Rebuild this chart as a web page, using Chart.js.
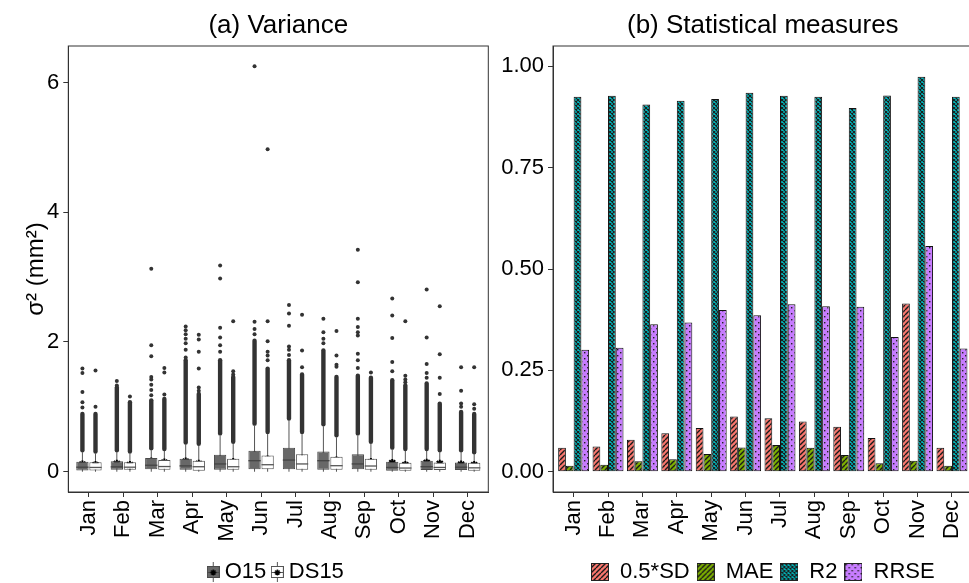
<!DOCTYPE html>
<html>
<head>
<meta charset="utf-8">
<script src="https://cdn.jsdelivr.net/npm/chart.js@4.4.0/dist/chart.umd.min.js"></script>
<style>
html, body { margin: 0; padding: 0; background: #fff; overflow: hidden; width: 969px; height: 583px; }
#left { position: absolute; left: 0; top: 0; }
#right { position: absolute; left: 490px; top: 0; }
</style>
</head>
<body>
<canvas id="left" width="510" height="593"></canvas>
<canvas id="right" width="550" height="593"></canvas>
<script>
const months = ['Jan', 'Feb', 'Mar', 'Apr', 'May', 'Jun', 'Jul', 'Aug', 'Sep', 'Oct', 'Nov', 'Dec'];

// (a) variance, O15
const o15Q1 = [0.02, 0.03, 0.04, 0.03, 0.03, 0.04, 0.04, 0.03, 0.04, 0.015, 0.026, 0.026];
const o15Med = [0.07, 0.075, 0.10, 0.09, 0.12, 0.17, 0.18, 0.17, 0.12, 0.066, 0.077, 0.07];
const o15Q3 = [0.155, 0.16, 0.21, 0.20, 0.26, 0.325, 0.37, 0.31, 0.27, 0.155, 0.17, 0.144];
const o15Mean = [0.11, 0.12, 0.155, 0.155, 0.185, 0.25, 0.26, 0.23, 0.185, 0.13, 0.134, 0.11];
const o15Lo = [0, 0, 0, 0, 0, 0, 0, 0, 0, 0, 0, 0];
const o15Hi = [0.30, 0.30, 0.33, 0.42, 0.56, 0.71, 0.79, 0.70, 0.56, 0.34, 0.32, 0.30];
const o15DenseTop = [0.89, 1.30, 1.10, 1.72, 1.72, 2.02, 1.72, 1.87, 1.48, 1.41, 1.36, 0.92];
const o15Out = [
  [1.59, 1.52, 1.23, 1.07, 0.99],
  [1.40, 1.33],
  [3.13, 1.95, 1.78, 1.46, 1.42, 1.34, 1.26, 1.18],
  [2.24, 2.18, 2.12, 2.05, 1.98, 1.88, 1.76],
  [3.18, 2.98, 2.22, 2.07, 1.95, 1.85],
  [6.25, 2.31, 2.20, 2.12],
  [2.57, 2.44, 2.25, 1.93, 1.88, 1.80],
  [2.36, 2.15, 2.05, 1.98],
  [3.42, 2.92, 2.36, 2.23, 2.15, 2.10, 1.82, 1.72, 1.60],
  [2.67, 2.41, 2.06, 1.69, 1.55],
  [2.81, 2.07, 1.66, 1.52, 1.45],
  [1.61, 1.25, 1.05, 1.00]
];

// (a) variance, DS15
const ds15Q1 = [0.02, 0.03, 0.03, 0.015, 0.03, 0.04, 0.03, 0.03, 0.03, 0.015, 0.026, 0.015];
const ds15Med = [0.066, 0.07, 0.08, 0.077, 0.077, 0.108, 0.12, 0.093, 0.088, 0.057, 0.066, 0.06];
const ds15Q3 = [0.145, 0.145, 0.18, 0.17, 0.20, 0.25, 0.27, 0.23, 0.20, 0.14, 0.144, 0.14];
const ds15Mean = [0.10, 0.10, 0.14, 0.12, 0.145, 0.185, 0.196, 0.17, 0.145, 0.10, 0.12, 0.10];
const ds15Lo = [0, 0, 0, 0, 0, 0, 0, 0, 0, 0, 0, 0];
const ds15Hi = [0.28, 0.28, 0.32, 0.40, 0.43, 0.58, 0.58, 0.53, 0.43, 0.32, 0.30, 0.27];
const ds15DenseTop = [0.89, 1.07, 1.12, 1.20, 1.46, 1.59, 1.50, 1.46, 1.45, 1.33, 1.05, 0.89];
const ds15Out = [
  [1.56, 1.00],
  [1.16],
  [1.60, 1.53, 1.19],
  [2.11, 2.04, 1.85, 1.59, 1.30, 1.25],
  [2.32, 1.55, 1.50],
  [4.97, 2.32, 2.01, 1.85, 1.79, 1.72],
  [2.42, 1.87, 1.61],
  [2.17, 1.79, 1.65, 1.62],
  [1.53],
  [2.32, 1.48, 1.42, 1.38],
  [2.55, 1.81, 1.45, 1.20],
  [1.61, 1.04, 0.97]
];

// (b) statistical measures
const sdHalf = [0.059, 0.062, 0.079, 0.095, 0.108, 0.136, 0.132, 0.124, 0.111, 0.083, 0.415, 0.059];
const mae = [0.015, 0.017, 0.026, 0.031, 0.044, 0.060, 0.066, 0.059, 0.041, 0.021, 0.027, 0.015];
const r2 = [0.925, 0.927, 0.906, 0.915, 0.919, 0.935, 0.927, 0.925, 0.897, 0.928, 0.974, 0.925];
const rrse = [0.301, 0.306, 0.364, 0.368, 0.399, 0.386, 0.413, 0.408, 0.407, 0.332, 0.557, 0.304];

const leftTicks = [0, 2, 4, 6];
const rightTicks = [0, 0.25, 0.5, 0.75, 1];

const FONT = 'Liberation Sans';
Chart.defaults.font.family = FONT;
Chart.defaults.color = '#000';
Chart.defaults.animation = false;

const shift = 0.19;

function makePattern(bg, kind) {
  const s = kind === 'dots' ? 6 : (kind === 'cross' ? 4 : 5);
  const c = document.createElement('canvas');
  c.width = s; c.height = s;
  const g = c.getContext('2d');
  g.fillStyle = bg;
  g.fillRect(0, 0, s, s);
  g.strokeStyle = '#1a1a1a';
  if (kind === 'stripe') {
    g.lineWidth = 1.4;
    g.beginPath();
    for (let k = -1; k <= 1; k++) { g.moveTo(k * s, s); g.lineTo(k * s + s, 0); }
    g.stroke();
  } else if (kind === 'cross') {
    g.lineWidth = 1.1;
    g.beginPath();
    for (let k = -1; k <= 1; k++) {
      g.moveTo(k * s, s); g.lineTo(k * s + s, 0);
      g.moveTo(k * s, 0); g.lineTo(k * s + s, s);
    }
    g.stroke();
  } else {
    g.fillStyle = '#222';
    g.fillRect(1, 1, 1.4, 1.4);
    g.fillRect(4, 4, 1.4, 1.4);
  }
  return g.createPattern(c, 'repeat');
}

function patternIcon(pattern) {
  const c = document.createElement('canvas');
  c.width = 18; c.height = 18;
  const g = c.getContext('2d');
  g.fillStyle = pattern;
  g.fillRect(0, 0, 18, 18);
  g.strokeStyle = '#222';
  g.lineWidth = 1;
  g.strokeRect(0.5, 0.5, 17, 17);
  return c;
}

function boxIcon(fill, edge) {
  const c = document.createElement('canvas');
  c.width = 13; c.height = 20;
  const g = c.getContext('2d');
  g.strokeStyle = '#555';
  g.beginPath(); g.moveTo(6.5, 0); g.lineTo(6.5, 20); g.stroke();
  g.fillStyle = fill;
  g.fillRect(0.5, 4.5, 12, 11);
  g.strokeStyle = edge;
  g.strokeRect(0.5, 4.5, 12, 11);
  g.beginPath(); g.moveTo(0.5, 10.5); g.lineTo(12.5, 10.5); g.stroke();
  g.strokeStyle = '#000';
  g.lineWidth = 1.4;
  g.beginPath();
  g.moveTo(6.5, 7.5); g.lineTo(6.5, 13.5);
  g.moveTo(3.5, 10.5); g.lineTo(9.5, 10.5);
  g.moveTo(4.4, 8.4); g.lineTo(8.6, 12.6);
  g.moveTo(8.6, 8.4); g.lineTo(4.4, 12.6);
  g.stroke();
  return c;
}

const panelDecor = {
  id: 'panelDecor',
  afterDraw(chart, args, opts) {
    const {ctx, chartArea: a} = chart;
    ctx.save();
    ctx.strokeStyle = '#333';
    ctx.lineWidth = 1;
    ctx.strokeRect(a.left, a.top, a.right - a.left, a.bottom - a.top);
    ctx.fillStyle = '#000';
    ctx.font = '26px "' + FONT + '"';
    ctx.textAlign = 'center';
    ctx.textBaseline = 'middle';
    ctx.fillText(opts.text, (a.left + a.right) / 2, 26);
    ctx.restore();
  }
};

const groups = [
  {lo: o15Lo, hi: o15Hi, dense: o15DenseTop, med: o15Med, medColor: '#444'},
  {lo: ds15Lo, hi: ds15Hi, dense: ds15DenseTop, med: ds15Med, medColor: '#555'}
];

const boxParts = {
  id: 'boxParts',
  beforeDatasetsDraw(chart) {
    const {ctx, scales: {y}} = chart;
    ctx.save();
    groups.forEach((g, k) => {
      const meta = chart.getDatasetMeta(k);
      meta.data.forEach((bar, i) => {
        ctx.strokeStyle = '#555';
        ctx.lineWidth = 1;
        ctx.beginPath();
        ctx.moveTo(bar.x, y.getPixelForValue(g.lo[i]));
        ctx.lineTo(bar.x, y.getPixelForValue(g.hi[i]));
        ctx.stroke();
        ctx.strokeStyle = '#333';
        ctx.lineWidth = 4.4;
        ctx.lineCap = 'round';
        ctx.beginPath();
        ctx.moveTo(bar.x, y.getPixelForValue(g.hi[i]) - 2);
        ctx.lineTo(bar.x, y.getPixelForValue(g.dense[i]));
        ctx.stroke();
        ctx.lineCap = 'butt';
      });
    });
    ctx.restore();
  },
  afterDatasetDraw(chart, args) {
    if (args.index > 1) return;
    const g = groups[args.index];
    const {ctx, scales: {y}} = chart;
    ctx.save();
    ctx.strokeStyle = g.medColor;
    ctx.lineWidth = 1.3;
    args.meta.data.forEach((bar, i) => {
      const py = y.getPixelForValue(g.med[i]);
      ctx.beginPath();
      ctx.moveTo(bar.x - bar.width / 2, py);
      ctx.lineTo(bar.x + bar.width / 2, py);
      ctx.stroke();
    });
    ctx.restore();
  }
};

const outPoints = (lists, dx) => lists.flatMap((vals, i) => vals.map(v => ({x: i + 1 + dx, y: v})));
const meanPoints = (vals, dx) => vals.map((v, i) => ({x: i + 1 + dx, y: v}));

const monthAxis = (height) => ({
  type: 'linear',
  offset: false,
  min: 0.4,
  max: 12.6,
  afterBuildTicks: axis => { axis.ticks = months.map((m, i) => ({value: i + 1})); },
  afterFit: axis => { axis.height = height; },
  ticks: {
    autoSkip: false, minRotation: 90, maxRotation: 90,
    font: {size: 22}, color: '#000', padding: 3,
    callback: v => months[v - 1]
  },
  grid: {display: true, offset: false, drawOnChartArea: false, tickLength: 5, color: '#333'},
  border: {display: true, color: '#333'}
});

new Chart(document.getElementById('left'), {
  type: 'bar',
  data: {
    datasets: [
      {label: 'O15', data: months.map((m, i) => ({x: i + 1, y: [o15Q1[i], o15Q3[i]]})),
        backgroundColor: '#686868', borderColor: '#4a4a4a', borderWidth: 1, borderSkipped: false,
        categoryPercentage: 0.76, barPercentage: 0.94},
      {label: 'DS15', data: months.map((m, i) => ({x: i + 1, y: [ds15Q1[i], ds15Q3[i]]})),
        backgroundColor: '#ffffff', borderColor: '#555', borderWidth: 1, borderSkipped: false,
        categoryPercentage: 0.76, barPercentage: 0.94},
      {type: 'scatter', label: 'o15 outliers', data: outPoints(o15Out, -shift),
        pointRadius: 2, pointBackgroundColor: '#333', pointBorderWidth: 0},
      {type: 'scatter', label: 'ds15 outliers', data: outPoints(ds15Out, shift),
        pointRadius: 2, pointBackgroundColor: '#333', pointBorderWidth: 0},
      {type: 'scatter', label: 'o15 mean', data: meanPoints(o15Mean, -shift),
        pointStyle: 'star', pointRadius: 4.2, pointBorderWidth: 2, pointBorderColor: '#000', pointBackgroundColor: '#000'},
      {type: 'scatter', label: 'ds15 mean', data: meanPoints(ds15Mean, shift),
        pointStyle: 'star', pointRadius: 4.2, pointBorderWidth: 2, pointBorderColor: '#000', pointBackgroundColor: '#000'}
    ]
  },
  options: {
    responsive: false,
    layout: {padding: {top: 46, left: 22, right: 21.7, bottom: 0}},
    scales: {
      x: monthAxis(58.5),
      y: {
        min: -0.3125, max: 6.5625,
        afterBuildTicks: axis => { axis.ticks = leftTicks.map(v => ({value: v})); },
        afterFit: axis => { axis.width = 46.3; },
        ticks: {font: {size: 22}, color: '#000', padding: 4},
        grid: {display: true, drawOnChartArea: false, tickLength: 5, color: '#333'},
        border: {display: true, color: '#333'},
        title: {display: true, text: 'σ² (mm²)', font: {size: 24}, color: '#000', padding: {top: 0, bottom: 0}}
      }
    },
    plugins: {
      tooltip: {enabled: false},
      panelDecor: {text: '(a) Variance'},
      legend: {
        position: 'bottom',
        fullSize: false,
        labels: {
          usePointStyle: true, pointStyleWidth: 1, padding: 10.5,
          font: {size: 22}, color: '#000',
          generateLabels: () => [
            {text: 'O15', pointStyle: boxIcon('#686868', '#4a4a4a'), datasetIndex: 0, lineWidth: 0},
            {text: 'DS15', pointStyle: boxIcon('#ffffff', '#555'), datasetIndex: 1, lineWidth: 0}
          ]
        }
      }
    }
  },
  plugins: [panelDecor, boxParts]
});

const sdPat = makePattern('#F8766D', 'stripe');
const maePat = makePattern('#7CAE00', 'stripe');
const r2Pat = makePattern('#00BFC4', 'cross');
const rrsePat = makePattern('#C77CFF', 'dots');

const barSet = (label, vals, pat) => ({
  label, data: vals.map((v, i) => ({x: i + 1, y: v})),
  backgroundColor: pat, borderColor: '#111', borderWidth: 1, borderSkipped: false,
  categoryPercentage: 0.9, barPercentage: 1.0
});

new Chart(document.getElementById('right'), {
  type: 'bar',
  data: {
    datasets: [
      barSet('0.5*SD', sdHalf, sdPat),
      barSet('MAE', mae, maePat),
      barSet('R2', r2, r2Pat),
      barSet('RRSE', rrse, rrsePat)
    ]
  },
  options: {
    responsive: false,
    layout: {padding: {top: 46, left: 0, right: 67.4, bottom: 0}},
    scales: {
      x: monthAxis(62),
      y: {
        min: -0.05, max: 1.05,
        afterBuildTicks: axis => { axis.ticks = rightTicks.map(v => ({value: v})); },
        afterFit: axis => { axis.width = 63; },
        ticks: {font: {size: 22}, color: '#000', padding: 4, callback: v => v.toFixed(2)},
        grid: {display: true, drawOnChartArea: false, tickLength: 5, color: '#333'},
        border: {display: true, color: '#333'}
      }
    },
    plugins: {
      tooltip: {enabled: false},
      panelDecor: {text: '(b) Statistical measures'},
      legend: {
        position: 'bottom',
        fullSize: false,
        labels: {
          usePointStyle: true, pointStyleWidth: 18, padding: 7,
          font: {size: 22}, color: '#000',
          generateLabels: chart => chart.data.datasets.map((d, i) => ({
            text: d.label, pointStyle: patternIcon(d.backgroundColor), datasetIndex: i, lineWidth: 0
          }))
        }
      }
    }
  },
  plugins: [panelDecor]
});
</script>
</body>
</html>
